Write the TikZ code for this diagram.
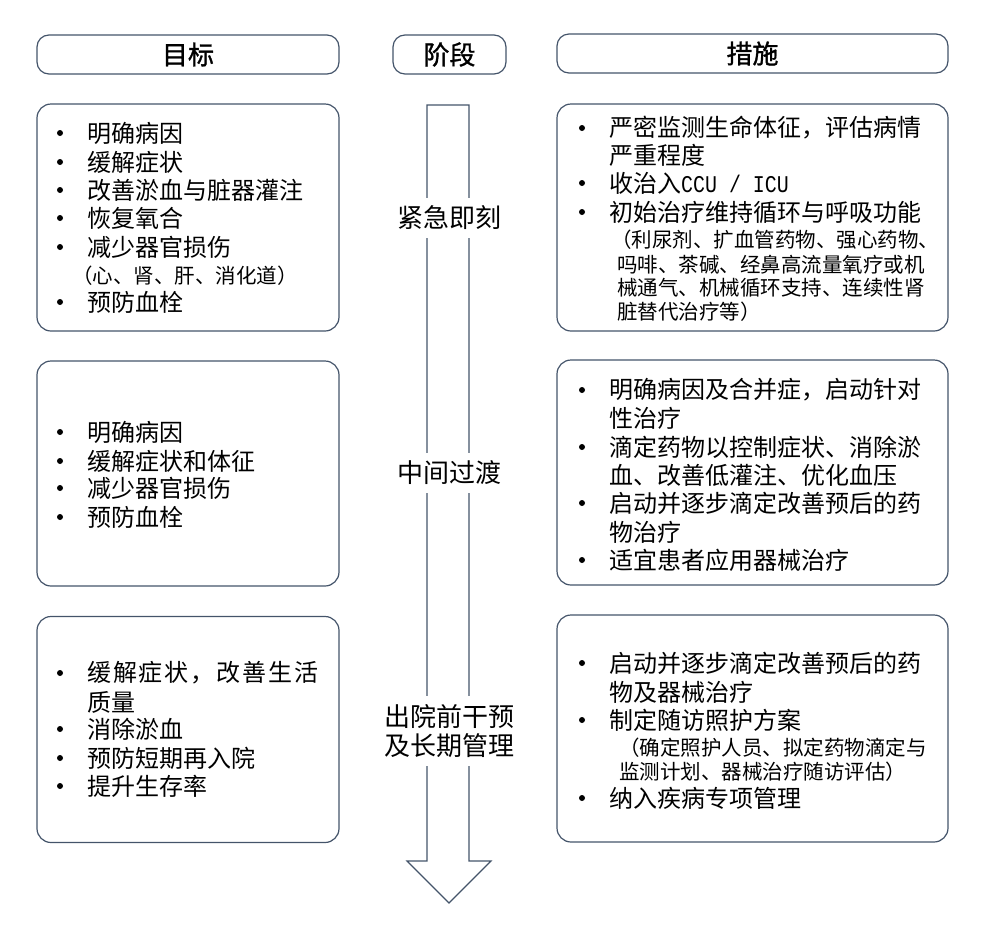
\documentclass[tikz,border=0pt]{standalone}
\usepackage{fontspec}
\setmainfont{Noto Sans CJK SC}
\newfontfamily\monof[FakeStretch=0.83]{Liberation Mono}
\newfontfamily\hdrf[FakeBold=1.2]{Noto Sans CJK SC}
\definecolor{bd}{HTML}{44546A}
\newcommand\itm[4]{\node[txt] (#1) at (#2,#3) {#4};\fill ([xshift=-27pt]#1.west) circle (3pt);}
\begin{document}
\begin{tikzpicture}[x=1pt,y=-1pt,
  hbox/.style={draw=bd, line width=1.2pt, rounded corners=12pt, inner sep=0pt, minimum height=39pt, font=\hdrf\fontsize{26}{30}\selectfont},
  cbox/.style={draw=bd, line width=1.2pt, rounded corners=14pt, inner sep=0pt},
  txt/.style={anchor=west, inner sep=0pt, font=\fontsize{24}{28}\selectfont},
  subt/.style={anchor=west, inner sep=0pt, font=\fontsize{20.5}{24}\selectfont},
  stage/.style={fill=white, inner xsep=3pt, inner ysep=8pt, align=center, font=\fontsize{26}{29}\selectfont},
  arr/.style={draw=bd, line width=1.2pt, line join=miter}]
\useasboundingbox (0,0) rectangle (986,927);

% headers
\node[hbox, minimum width=302pt] (h1) at (188,54.5) {目标};
\node[hbox, minimum width=113pt] (h2) at (449.5,54.5) {阶段};
\node[hbox, minimum width=391pt] (h3) at (752.5,53.5) {措施};

% content boxes
\node[cbox, minimum width=302pt, minimum height=227pt] (l1) at (188,217.5) {};
\node[cbox, minimum width=391pt, minimum height=227pt] (r1) at (752.5,217.5) {};
\node[cbox, minimum width=302pt, minimum height=225pt] (l2) at (188,473.5) {};
\node[cbox, minimum width=391pt, minimum height=225pt] (r2) at (752.5,472.5) {};
\node[cbox, minimum width=302pt, minimum height=226pt] (l3) at (188,729.5) {};
\node[cbox, minimum width=391pt, minimum height=227pt] (r3) at (752.5,728.5) {};

% arrow
\coordinate (at1) at (427,105);
\coordinate (at2) at (469,105);
\coordinate (tip) at (449,903);
\draw[arr] (at1) -- (427,861) -- (407,861) -- (tip) -- (491,861) -- (469,861) -- (at2) -- cycle;

% stage labels
\node[stage] (s1) at (449,218) {紧急即刻};
\node[stage] (s2) at (449,473) {中间过渡};
\node[stage] (s3) at (449,731) {出院前干预\\及长期管理};

% left box 1
\itm{a1}{87}{133}{明确病因}
\itm{a2}{87}{162}{缓解症状}
\itm{a3}{87}{190}{改善淤血与脏器灌注}
\itm{a4}{87}{218}{恢复氧合}
\itm{a5}{87}{247}{减少器官损伤}
\node[subt] (a5s) at (72,276) {（心、肾、肝、消化道）};
\itm{a6}{87}{302}{预防血栓}

% right box 1
\itm{b1}{609}{128}{严密监测生命体征，评估病情}
\node[txt] (b1b) at (609,155) {严重程度};
\itm{b2}{609}{183}{收治入{\monof\fontsize{24}{28}\selectfont CCU / ICU}}
\itm{b3}{609}{212}{初始治疗维持循环与呼吸功能}
\node[subt] (b3a) at (611,240) {（利尿剂、扩血管药物、强心药物、};
\node[subt] (b3b) at (617,265) {吗啡、茶碱、经鼻高流量氧疗或机};
\node[subt] (b3c) at (617,288) {械通气、机械循环支持、连续性肾};
\node[subt] (b3d) at (617,312) {脏替代治疗等）};

% left box 2
\itm{c1}{87}{432}{明确病因}
\itm{c2}{87}{461}{缓解症状和体征}
\itm{c3}{87}{488}{减少器官损伤}
\itm{c4}{87}{517}{预防血栓}

% right box 2
\itm{d1}{609}{390}{明确病因及合并症，启动针对}
\node[txt] (d1b) at (609,418) {性治疗};
\itm{d2}{609}{447}{滴定药物以控制症状、消除淤}
\node[txt] (d2b) at (609,475) {血、改善低灌注、优化血压};
\itm{d3}{609}{503}{启动并逐步滴定改善预后的药}
\node[txt] (d3b) at (609,532) {物治疗};
\itm{d4}{609}{560}{适宜患者应用器械治疗}

% left box 3
\itm{e1}{87}{673}{\makebox[231pt][l]{缓\hfill 解\hfill 症\hfill 状\hfill ，\hfill 改\hfill 善\hfill 生\hfill 活}}
\node[txt] (e1b) at (87,702) {质量};
\itm{e2}{87}{729}{消除淤血}
\itm{e3}{87}{758}{预防短期再入院}
\itm{e4}{87}{786}{提升生存率}

% right box 3
\itm{f1}{609}{663}{启动并逐步滴定改善预后的药}
\node[txt] (f1b) at (609,692) {物及器械治疗};
\itm{f2}{609}{720}{制定随访照护方案}
\node[subt] (f2a) at (619,748) {（确定照护人员、拟定药物滴定与};
\node[subt] (f2b) at (619,772) {监测计划、器械治疗随访评估）};
\itm{f3}{609}{798}{纳入疾病专项管理}
\end{tikzpicture}
\end{document}
